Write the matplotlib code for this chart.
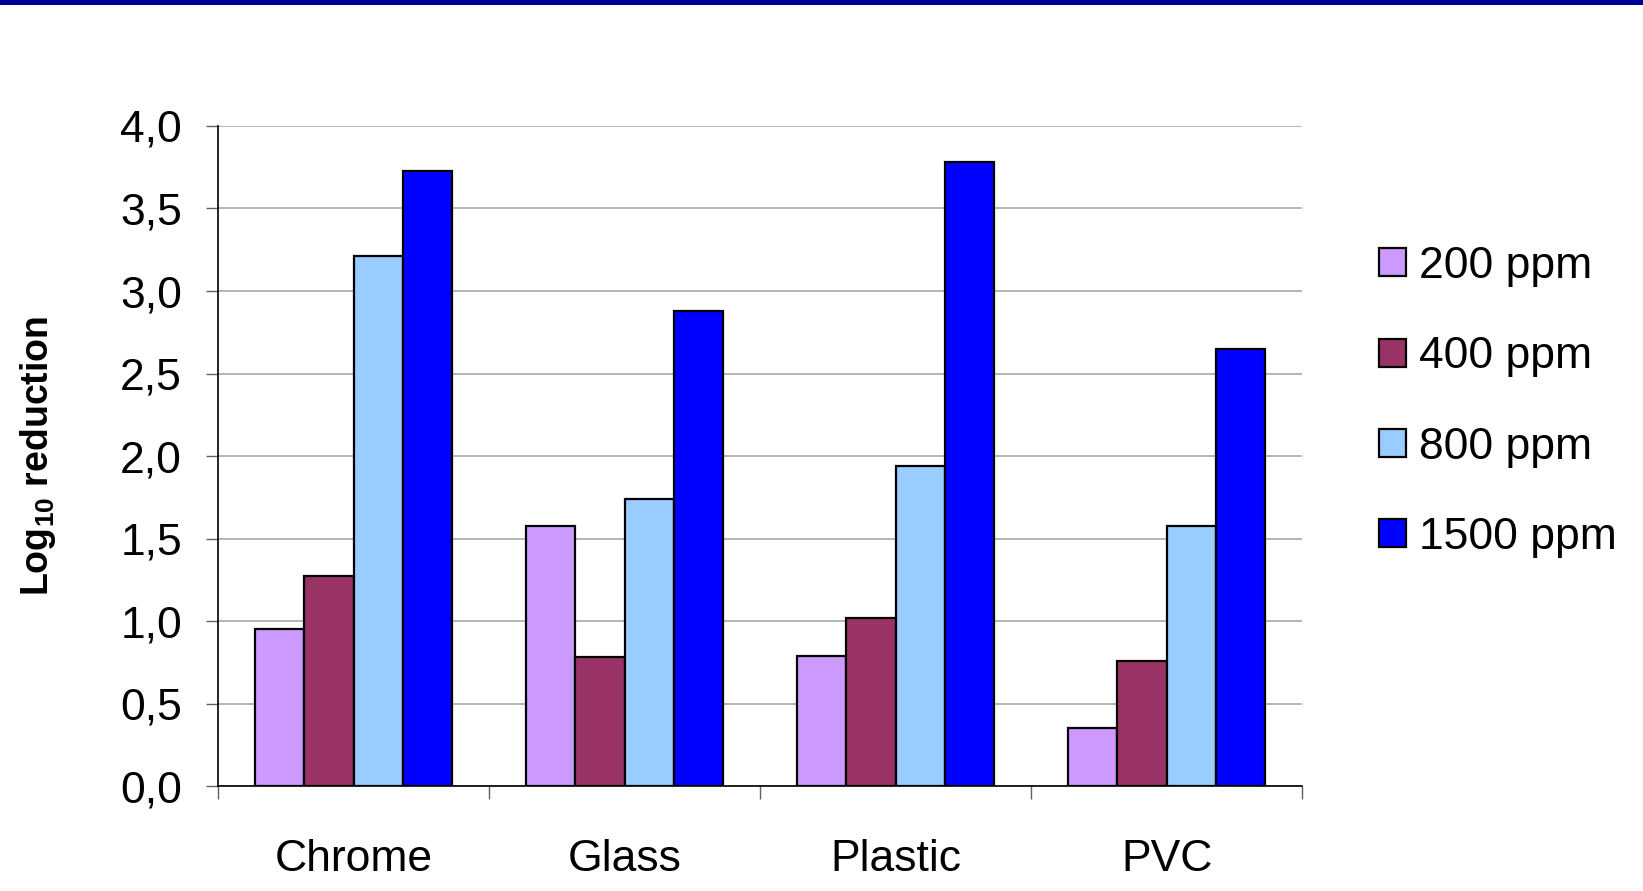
import numpy as np
import matplotlib.pyplot as plt
from matplotlib.patches import Rectangle

plt.rcParams['font.family'] = ['Liberation Sans', 'DejaVu Sans']
plt.rcParams['mathtext.fontset'] = 'custom'
plt.rcParams['mathtext.rm'] = 'Liberation Sans'
plt.rcParams['mathtext.bf'] = 'Liberation Sans:bold'

surfaces = ["Chrome", "Glass", "Plastic", "PVC"]
series = ["200 ppm", "400 ppm", "800 ppm", "1500 ppm"]
ppm200 = [0.95, 1.575, 0.79, 0.35]
ppm400 = [1.27, 0.78, 1.02, 0.755]
ppm800 = [3.21, 1.74, 1.94, 1.575]
ppm1500 = [3.73, 2.88, 3.78, 2.65]
colors = ["#CC99FF", "#993366", "#99CCFF", "#0000FF"]
yticks = [0.0, 0.5, 1.0, 1.5, 2.0, 2.5, 3.0, 3.5, 4.0]
ytick_labels = ["0,0", "0,5", "1,0", "1,5", "2,0", "2,5", "3,0", "3,5", "4,0"]

fig = plt.figure(figsize=(16.43, 8.91), dpi=100)
# dark band along the top
fig.patches.append(Rectangle((0, 1 - 5 / 891), 1, 5 / 891, transform=fig.transFigure,
                             facecolor="#000099", edgecolor="none"))

ax = fig.add_axes([0.1327, 0.1178, 0.7925 - 0.1327, 0.8586 - 0.1178])

x = np.arange(len(surfaces))
w = 0.182
allvals = [ppm200, ppm400, ppm800, ppm1500]
for i, vals in enumerate(allvals):
    ax.bar(x + (i - 1.5) * w, vals, w, color=colors[i], edgecolor="black",
           linewidth=1.6, label=series[i], zorder=3)

ax.set_xlim(-0.5, 3.5)
ax.set_ylim(0, 4.0)
ax.set_yticks(yticks)
ax.set_yticklabels(ytick_labels)
ax.yaxis.grid(True, color="#A8A8A8", linewidth=1.2, zorder=0)

ax.set_xticks(x)
ax.set_xticklabels(surfaces)
ax.set_xticks(np.arange(-0.5, 4, 1), minor=True)
ax.tick_params(axis="x", which="major", length=0, pad=38, labelsize=32)
ax.tick_params(axis="x", which="minor", length=9, width=1, color="#606060")
ax.tick_params(axis="y", length=9, width=1, pad=17, labelsize=32, color="#606060")

for s in ["top", "right"]:
    ax.spines[s].set_visible(False)
ax.spines["left"].set_linewidth(1.2)
ax.spines["bottom"].set_linewidth(1.2)

ax.set_ylabel(r"Log$_{\mathbf{10}}$ reduction", fontsize=27, fontweight="bold")
ax.yaxis.set_label_coords(-0.148, 0.5)

ax.legend(loc="upper left", bbox_to_anchor=(1.055, 0.845), frameon=False, fontsize=32,
          handlelength=0.59, handleheight=0.59, handletextpad=0.3, labelspacing=1.11,
          borderaxespad=0)

fig.savefig("out.png", dpi=100)
